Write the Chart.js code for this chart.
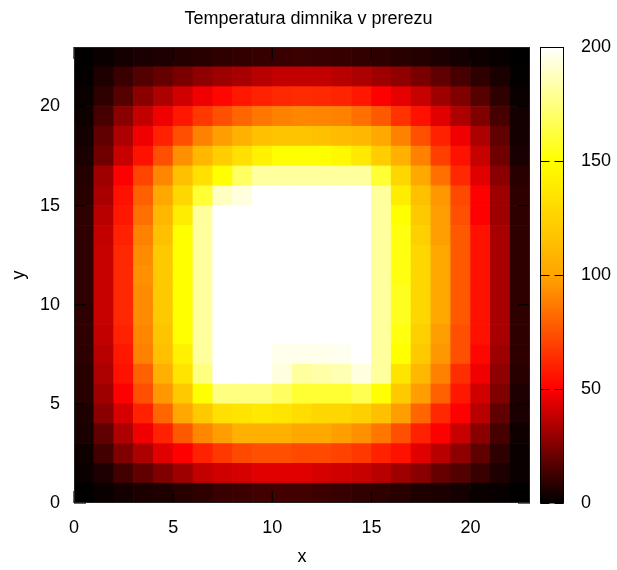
<!DOCTYPE html>
<html>
<head>
<meta charset="utf-8">
<script src="https://cdn.jsdelivr.net/npm/chart.js@4/dist/chart.umd.min.js"></script>
<style>
  body { margin: 0; background: #fff; }
</style>
</head>
<body>
<canvas id="myChart" width="617" height="570"></canvas>
<script>
// temperature per cell, top row (y = 22..23) first, x = 0..22 left to right
var tempRows = [
    [0, 2, 4, 5, 6, 7, 8, 9, 10, 10.5, 11, 11.5, 11, 10.5, 10, 9, 8, 7, 5.5, 4, 3, 1.5, 0],
    [1, 6, 11, 16, 20, 24, 28, 31, 33, 36, 38, 38, 38, 36, 34, 31, 28, 24, 19, 14, 9, 5, 1],
    [2, 9, 17, 27, 34, 41, 47, 52, 57, 60, 62, 63, 62, 61, 57, 50, 45, 39, 31, 25, 17, 9, 2],
    [3, 14, 27, 38, 47, 57, 67, 74, 81, 86, 89, 91, 90, 89, 84, 77, 65, 55, 44, 34, 25, 14, 4],
    [4, 19, 34, 47, 60, 74, 89, 98, 106, 115, 117, 117, 115, 113, 110, 102, 89, 74, 60, 47, 34, 19, 4],
    [5, 22, 39, 55, 74, 94, 110, 122, 133, 142, 150, 150, 150, 146, 138, 122, 106, 89, 69, 55, 39, 22, 5],
    [7, 31, 50, 71, 91, 115, 133, 150, 169, 181, 181, 181, 181, 181, 181, 160, 128, 102, 84, 62, 44, 27, 8],
    [8, 33, 55, 79, 102, 128, 160, 188, 194, 200, 200, 200, 200, 200, 200, 181, 140, 115, 96, 72, 50, 31, 9],
    [9, 36, 57, 84, 110, 140, 181, 200, 200, 200, 200, 200, 200, 200, 200, 181, 150, 120, 98, 74, 50, 31, 9],
    [9, 38, 60, 89, 115, 150, 181, 200, 200, 200, 200, 200, 200, 200, 200, 181, 153, 124, 98, 77, 55, 33, 9],
    [9, 39, 62, 92, 120, 150, 181, 200, 200, 200, 200, 200, 200, 200, 200, 181, 153, 128, 102, 77, 55, 33, 9],
    [9, 39, 62, 94, 120, 150, 181, 200, 200, 200, 200, 200, 200, 200, 200, 181, 153, 128, 102, 77, 55, 33, 9],
    [9, 39, 62, 92, 120, 150, 181, 200, 200, 200, 200, 200, 200, 200, 200, 181, 156, 128, 102, 77, 55, 33, 9],
    [9, 39, 62, 92, 120, 150, 181, 200, 200, 200, 200, 200, 200, 200, 200, 181, 156, 128, 102, 77, 55, 33, 9],
    [9, 38, 60, 91, 117, 150, 181, 200, 200, 200, 200, 200, 200, 200, 200, 181, 153, 124, 98, 74, 55, 33, 9],
    [9, 36, 57, 89, 115, 142, 181, 200, 200, 200, 196, 196, 196, 197, 200, 181, 150, 120, 96, 74, 52, 31, 9],
    [8, 34, 55, 79, 106, 135, 175, 200, 200, 200, 194, 181, 183, 185, 194, 181, 135, 110, 89, 64, 47, 28, 8],
    [8, 31, 50, 74, 96, 120, 150, 175, 175, 175, 169, 160, 160, 160, 166, 150, 120, 98, 79, 57, 41, 25, 6],
    [6, 27, 42, 60, 81, 102, 120, 133, 135, 138, 135, 131, 128, 128, 124, 115, 98, 81, 62, 50, 36, 19, 5],
    [5, 19, 34, 47, 60, 77, 91, 98, 106, 106, 106, 102, 102, 98, 94, 86, 74, 60, 50, 39, 27, 14, 3],
    [3, 13, 25, 34, 44, 50, 60, 67, 72, 74, 74, 72, 72, 70, 67, 60, 55, 44, 36, 28, 19, 9, 2],
    [2, 6, 13, 19, 25, 31, 38, 41, 42, 44, 44, 44, 42, 41, 39, 36, 31, 27, 20, 16, 11, 6, 2],
    [0, 2, 4, 5.5, 6, 8, 9, 11, 12, 13, 13, 13, 12, 11, 10, 9, 8, 6, 5.5, 4, 2, 1.5, 0]
];
var xTicks = [0, 5, 10, 15, 20];
var yTicks = [0, 5, 10, 15, 20];
var cbTicks = [0, 50, 100, 150, 200];
// hot palette: black -> red -> orange -> yellow -> white
var paletteStops = [0, 50, 100, 150, 200];
var paletteColors = [[0, 0, 0], [255, 0, 0], [255, 165, 0], [255, 255, 0], [255, 255, 255]];

var FONT = "'Liberation Sans', Arial, sans-serif";

function hotColor(v) {
    var n = paletteStops.length;
    if (v <= paletteStops[0]) return 'rgb(' + paletteColors[0].join(',') + ')';
    for (var k = 1; k < n; k++) {
        if (v <= paletteStops[k]) {
            var f = (v - paletteStops[k - 1]) / (paletteStops[k] - paletteStops[k - 1]);
            var a = paletteColors[k - 1], b = paletteColors[k];
            return 'rgb(' + [0, 1, 2].map(function (c) { return Math.round(a[c] + (b[c] - a[c]) * f); }).join(',') + ')';
        }
    }
    return 'rgb(' + paletteColors[n - 1].join(',') + ')';
}

var cells = [];
tempRows.forEach(function (row, r) {
    var j = tempRows.length - 1 - r;
    row.forEach(function (v, i) {
        cells.push({ x: i + 0.5, y: [j, j + 1], v: v });
    });
});

function keepTicks(list) {
    return function (scale) {
        scale.ticks = list.map(function (t) { return { value: t }; });
    };
}

// frame, inward tics and the colour box on the right
var frameAndColorbar = {
    id: 'frameAndColorbar',
    afterDatasetsDraw: function (chart) {
        var ctx = chart.ctx, a = chart.chartArea;
        var xs = chart.scales.x, ys = chart.scales.y, cb = chart.scales.y2;
        var tic = 12;
        function seg(x1, y1, x2, y2) {
            ctx.beginPath(); ctx.moveTo(x1, y1); ctx.lineTo(x2, y2); ctx.stroke();
        }
        ctx.save();
        ctx.strokeStyle = '#000';
        ctx.lineWidth = 1.2;
        xTicks.forEach(function (t) {
            var px = xs.getPixelForValue(t);
            seg(px, a.bottom, px, a.bottom - tic);
            seg(px, a.top, px, a.top + tic);
        });
        yTicks.forEach(function (t) {
            var py = ys.getPixelForValue(t);
            seg(a.left, py, a.left + tic, py);
            seg(a.right, py, a.right - tic, py);
        });
        ctx.lineWidth = 1;
        ctx.strokeStyle = '#222';
        ctx.strokeRect(a.left + 0.5, a.top + 0.5, a.right - a.left - 1, a.bottom - a.top - 1);

        // colour box
        var top = cb.getPixelForValue(paletteStops[paletteStops.length - 1]);
        var bot = cb.getPixelForValue(paletteStops[0]);
        var x0 = cb.left + 10.5, w = 23;
        var grad = ctx.createLinearGradient(0, bot, 0, top);
        paletteStops.forEach(function (s, k) {
            grad.addColorStop((s - paletteStops[0]) / (paletteStops[paletteStops.length - 1] - paletteStops[0]),
                'rgb(' + paletteColors[k].join(',') + ')');
        });
        ctx.fillStyle = grad;
        ctx.fillRect(x0, top, w, bot - top);
        ctx.strokeStyle = '#000';
        ctx.lineWidth = 1;
        ctx.strokeRect(x0, top + 0.5, w, bot - top - 0.5);
        cbTicks.forEach(function (t) {
            var py = Math.round(cb.getPixelForValue(t)) + 0.5;
            seg(x0, py, x0 + 9, py);
            seg(x0 + w - 9, py, x0 + w, py);
        });
        ctx.restore();
    }
};

var ctx = document.getElementById('myChart').getContext('2d');
var myChart = new Chart(ctx, {
    type: 'bar',
    data: {
        datasets: [{
            data: cells,
            xAxisID: 'x',
            yAxisID: 'y',
            backgroundColor: function (c) { return c.raw ? hotColor(c.raw.v) : '#000'; },
            borderWidth: 0,
            barPercentage: 1,
            categoryPercentage: 1,
            grouped: false
        }]
    },
    plugins: [frameAndColorbar],
    options: {
        responsive: false,
        animation: false,
        events: [],
        layout: { padding: 0 },
        plugins: {
            legend: { display: false },
            tooltip: { enabled: false },
            title: {
                display: true,
                text: 'Temperatura dimnika v prerezu',
                color: '#000',
                font: { family: FONT, size: 18, weight: 'normal' },
                padding: { top: 8, bottom: 17.4 }
            }
        },
        scales: {
            x: {
                type: 'linear',
                position: 'bottom',
                min: 0,
                max: 23,
                offset: false,
                grid: { display: false, drawTicks: false, offset: false },
                border: { display: false },
                afterBuildTicks: keepTicks(xTicks),
                ticks: { color: '#000', font: { family: FONT, size: 18 }, padding: 14, maxRotation: 0, autoSkip: false },
                title: { display: true, text: 'x', color: '#000', font: { family: FONT, size: 18 }, padding: { top: 0, bottom: 2 } },
                afterFit: function (s) { s.height = 67; s.paddingLeft = 0; s.paddingRight = 0; }
            },
            y: {
                type: 'linear',
                position: 'left',
                min: 0,
                max: 23,
                beginAtZero: true,
                grid: { display: false, drawTicks: false },
                border: { display: false },
                afterBuildTicks: keepTicks(yTicks),
                ticks: { color: '#000', font: { family: FONT, size: 18 }, padding: 14, autoSkip: false },
                title: { display: true, text: 'y', color: '#000', font: { family: FONT, size: 18 }, padding: { top: 8, bottom: 0 } },
                afterFit: function (s) { s.width = 74; s.paddingTop = 0; s.paddingBottom = 0; }
            },
            y2: {
                type: 'linear',
                position: 'right',
                min: 0,
                max: 200,
                grid: { display: false, drawTicks: false },
                border: { display: false },
                afterBuildTicks: keepTicks(cbTicks),
                ticks: { color: '#000', font: { family: FONT, size: 18 }, padding: 51, autoSkip: false },
                afterFit: function (s) { s.width = 87; s.paddingTop = 0; s.paddingBottom = 0; }
            }
        }
    }
});
</script>
</body>
</html>
